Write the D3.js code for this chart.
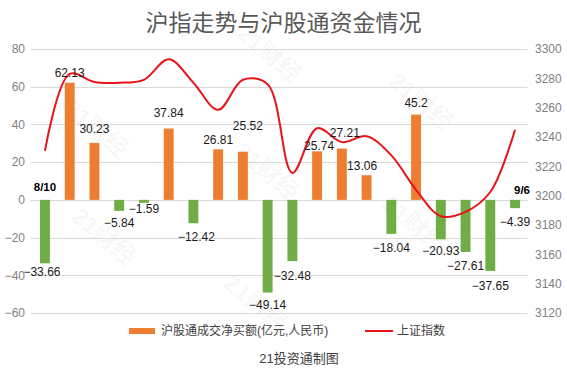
<!DOCTYPE html>
<html>
<head>
<meta charset="utf-8">
<script src="https://cdn.jsdelivr.net/npm/d3@7"></script>
<style>
  html, body { margin: 0; padding: 0; background: #fff; }
  svg { display: block; }
  text { font-family: "Liberation Sans", Arial, "Noto Sans CJK SC", sans-serif; }
</style>
</head>
<body>
<svg id="chart" width="567" height="374"></svg>
<script>
// ---- data ----
const categories = ["8/10","8/11","8/14","8/15","8/16","8/17","8/18","8/21","8/22","8/23",
                    "8/24","8/25","8/28","8/29","8/30","8/31","9/1","9/4","9/5","9/6"];
const netBuy = [-33.66, 62.13, 30.23, -5.84, -1.59, 37.84, -12.42, 26.81, 25.52, -49.14,
                -32.48, 25.74, 27.21, 13.06, -18.04, 45.2, -20.93, -27.61, -37.65, -4.39];
const shIndex = [3230.5, 3283, 3277.5, 3277, 3279, 3293, 3277, 3258.5, 3279, 3276,
                 3215.5, 3246, 3236.5, 3240.5, 3227.5, 3204, 3186, 3189, 3202.5, 3245];
const leftTicks = [80, 60, 40, 20, 0, -20, -40, -60];
const rightTicks = [3300, 3280, 3260, 3240, 3220, 3200, 3180, 3160, 3140, 3120];
const title = "沪指走势与沪股通资金情况";
const legendBar = "沪股通成交净买额(亿元,人民币)";
const legendLine = "上证指数";
const source = "21投资通制图";

// ---- layout ----
const svg = d3.select("#chart");
const W = 567, H = 374;
const plot = { left: 32.6, right: 527.4, top: 49, bottom: 313 };
const fmtMinus = s => String(s).replace("-", "\u2212");

// manual label placement adjustments (layout only), keyed by category
const labelNudge = {
  "8/10": [-3, -3.5], "8/11": [0, 2], "8/14": [0, -2], "8/16": [0, -6], "8/17": [0, -3.5],
  "8/18": [3, 1.5], "8/21": [0, 2.5], "8/22": [5, -14], "8/24": [0, 3], "8/25": [2, 6.5],
  "8/28": [3, -3.5], "8/29": [-4.5, 2.5], "8/30": [0, 2], "9/4": [0, 2], "9/5": [0, 3], "9/6": [0, 2]
};

const x = d3.scaleBand().domain(categories).range([plot.left, plot.right])
  .paddingInner(0.6).paddingOuter(0.3);
const yL = d3.scaleLinear().domain([-60, 80]).range([plot.bottom, plot.top]);
const yR = d3.scaleLinear().domain([3120, 3300]).range([plot.bottom, plot.top]);

// watermark
const wm = [[95,130],[268,55],[266,173],[103,238],[255,305],[420,103],[413,226]];
svg.append("g").selectAll("text").data(wm).join("text")
  .attr("transform", d => `translate(${d[0]},${d[1]}) rotate(40)`)
  .attr("text-anchor", "middle").attr("dominant-baseline", "middle")
  .attr("font-size", 24).attr("font-weight", "bold")
  .attr("font-family", "'Noto Sans CJK SC', sans-serif")
  .attr("fill", "#000").attr("fill-opacity", 0.04)
  .text("21财经");

// title
svg.append("text").attr("x", W / 2).attr("y", 31).attr("text-anchor", "middle")
  .attr("font-family", "'Noto Sans CJK SC', sans-serif")
  .attr("font-size", 23).attr("fill", "#595959").text(title);

// gridlines
svg.append("g").selectAll("line").data(leftTicks).join("line")
  .attr("x1", plot.left - 2).attr("x2", plot.right)
  .attr("y1", d => Math.round(yL(d)) + 0.5).attr("y2", d => Math.round(yL(d)) + 0.5)
  .attr("stroke", "#d9d9d9").attr("stroke-width", 1);

// left axis
const axL = d3.axisLeft(yL).tickValues(leftTicks).tickSize(0).tickPadding(0).tickFormat(fmtMinus);
const gL = svg.append("g").attr("transform", "translate(25,0)").call(axL);
gL.select(".domain").remove();
gL.selectAll("text").attr("font-size", 12).attr("fill", "#7f7f7f")
  .attr("font-family", "'Liberation Sans', Arial, sans-serif");

// right axis
const axR = d3.axisRight(yR).tickValues(rightTicks).tickSize(0).tickPadding(0).tickFormat(d3.format("d"));
const gR = svg.append("g").attr("transform", "translate(535,0)").call(axR);
gR.select(".domain").remove();
gR.selectAll("text").attr("font-size", 12).attr("fill", "#7f7f7f")
  .attr("font-family", "'Liberation Sans', Arial, sans-serif");

// bars
const data = categories.map((c, i) => ({ c, v: netBuy[i], idx: shIndex[i] }));
svg.append("g").selectAll("rect").data(data).join("rect")
  .attr("x", d => x(d.c)).attr("width", x.bandwidth())
  .attr("y", d => yL(Math.max(0, d.v)))
  .attr("height", d => Math.abs(yL(d.v) - yL(0)))
  .attr("fill", d => d.v >= 0 ? "#ED7D31" : "#70AD47");

// line
const line = d3.line().x(d => x(d.c) + x.bandwidth() / 2).y(d => yR(d.idx))
  .curve(d3.curveCatmullRom.alpha(0.5));
svg.append("path").datum(data).attr("d", line)
  .attr("fill", "none").attr("stroke", "#E8141B").attr("stroke-width", 2);

// value labels
const nud = c => labelNudge[c] || [0, 0];
svg.append("g").selectAll("text").data(data).join("text")
  .attr("x", d => x(d.c) + x.bandwidth() / 2 + nud(d.c)[0])
  .attr("y", d => (d.v >= 0 ? yL(d.v) - 12 : yL(d.v) + 12) + nud(d.c)[1])
  .attr("text-anchor", "middle").attr("dominant-baseline", "central")
  .attr("font-size", 12).attr("fill", "#1a1a1a")
  .text(d => fmtMinus(d.v));

// date labels for first and last
const firstC = categories[0], lastC = categories[categories.length - 1];
svg.append("text").attr("x", x(firstC) + x.bandwidth() / 2).attr("y", yL(0) - 13)
  .attr("text-anchor", "middle").attr("dominant-baseline", "central")
  .attr("font-family", "Verdana, 'DejaVu Sans', sans-serif")
  .attr("font-size", 11.5).attr("font-weight", "bold").attr("fill", "#000").text(firstC);
svg.append("text").attr("x", x(lastC) + x.bandwidth() / 2 - 1).attr("y", yL(0) - 10)
  .attr("text-anchor", "start").attr("dominant-baseline", "central")
  .attr("font-family", "Verdana, 'DejaVu Sans', sans-serif")
  .attr("font-size", 11.5).attr("font-weight", "bold").attr("fill", "#000").text(lastC);

// legend
const lg = svg.append("g");
lg.append("rect").attr("x", 129).attr("y", 328).attr("width", 26).attr("height", 6).attr("fill", "#ED7D31");
lg.append("text").attr("x", 161).attr("y", 331).attr("dominant-baseline", "central")
  .attr("font-family", "'Noto Sans CJK SC', sans-serif")
  .attr("font-size", 12).attr("fill", "#404040").text(legendBar);
lg.append("line").attr("x1", 365).attr("x2", 393).attr("y1", 331).attr("y2", 331)
  .attr("stroke", "#E8141B").attr("stroke-width", 2);
lg.append("text").attr("x", 397).attr("y", 331).attr("dominant-baseline", "central")
  .attr("font-family", "'Noto Sans CJK SC', sans-serif")
  .attr("font-size", 12).attr("fill", "#404040").text(legendLine);

// source
svg.append("text").attr("x", 299).attr("y", 358).attr("text-anchor", "middle")
  .attr("dominant-baseline", "central")
  .attr("font-family", "'Noto Sans CJK SC', sans-serif")
  .attr("font-size", 13).attr("fill", "#404040").text(source);
</script>
</body>
</html>
